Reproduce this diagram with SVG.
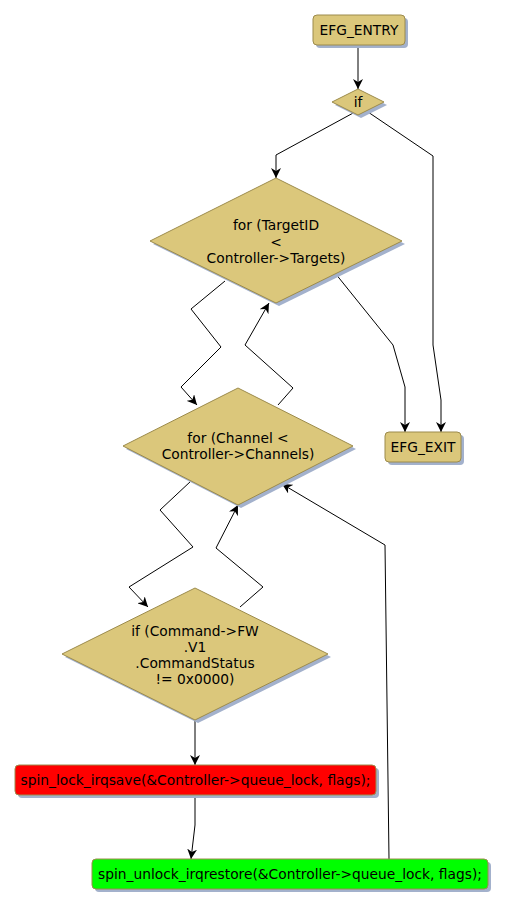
<svg xmlns="http://www.w3.org/2000/svg" width="507" height="908" viewBox="0 0 507 908">
<defs>
<marker id="ah" viewBox="0 0 10 10" refX="10" refY="5" markerWidth="10" markerHeight="10" markerUnits="userSpaceOnUse" orient="auto">
<path d="M0,0 L10,5 L0,10 L3,5 Z" fill="#000"/>
</marker>
</defs>
<style>
.n{fill:#dbc77b;stroke:#9c8b4c;stroke-width:1}
.sh{fill:#a3b1cc}
.t{font-family:"DejaVu Sans",sans-serif;font-size:13.8px;fill:#000;text-anchor:middle}
.e{fill:none;stroke:#000;stroke-width:1;marker-end:url(#ah)}
</style>
<rect width="507" height="908" fill="#fff"/>
<g id="connectors">
<path class="e" d="M358,45 L358,89"/>
<path class="e" d="M355,112 L276,155 L276,178"/>
<path class="e" d="M368,112 L433,156 L433,345 L441,400 L441,432"/>
<path class="e" d="M335,273 L393,345 L405,387 L405,432"/>
<path class="e" d="M225,281 L191,309 L221,347 L181,387 L197,405"/>
<path class="e" d="M278,405 L293,388 L245,345 L269,303"/>
<path class="e" d="M191,481 L160,510 L193,547 L129,587 L148,607"/>
<path class="e" d="M240,607 L263,587 L216,548 L238,505"/>
<path class="e" d="M195,720 L195,765"/>
<path class="e" d="M195,795 L195,825 L191,859"/>
<path class="e" d="M389,859 L385,545 L282,484"/>
</g>
<g id="EFG_ENTRY">
<rect class="sh" x="316" y="18" width="92" height="30" rx="4"/>
<rect class="n" x="313" y="15" width="92" height="30" rx="4"/>
<text class="t" x="359" y="35">EFG_ENTRY</text>
</g>
<g id="if1">
<polygon class="sh" points="361,92 387,105 361,118 335,105"/>
<polygon class="n" points="358,89 384,102 358,115 332,102"/>
<text class="t" x="358" y="107">if</text>
</g>
<g id="for_target">
<polygon class="sh" points="279,181 405,244 279,306 153,244"/>
<polygon class="n" points="276,178 402,241 276,303 150,241"/>
<text class="t" x="276" y="230">for (TargetID</text>
<text class="t" x="276" y="247">&lt;</text>
<text class="t" x="276" y="263">Controller-&gt;Targets)</text>
</g>
<g id="for_channel">
<polygon class="sh" points="241,391 356,449 241,508 126,449"/>
<polygon class="n" points="238,388 353,446 238,505 123,446"/>
<text class="t" x="238" y="443">for (Channel &lt;</text>
<text class="t" x="238" y="459">Controller-&gt;Channels)</text>
</g>
<g id="if_cmd">
<polygon class="sh" points="198,591 331,657 198,723 65,657"/>
<polygon class="n" points="195,588 328,654 195,720 62,654"/>
<text class="t" x="195" y="636">if (Command-&gt;FW</text>
<text class="t" x="195" y="652">.V1</text>
<text class="t" x="195" y="668">.CommandStatus</text>
<text class="t" x="195" y="684">!= 0x0000)</text>
</g>
<g id="EFG_EXIT">
<rect class="sh" x="388" y="435" width="76" height="30" rx="4"/>
<rect class="n" x="385" y="432" width="76" height="30" rx="4"/>
<text class="t" x="423" y="452">EFG_EXIT</text>
</g>
<g id="spin_lock">
<rect class="sh" x="18" y="768" width="361" height="30" rx="4"/>
<rect x="15" y="765" width="361" height="30" rx="4" fill="#ff0000" stroke="#9c8b4c"/>
<text class="t" x="195.5" y="785">spin_lock_irqsave(&amp;Controller-&gt;queue_lock, flags);</text>
</g>
<g id="spin_unlock">
<rect class="sh" x="95" y="862" width="396" height="30" rx="4"/>
<rect x="92" y="859" width="396" height="30" rx="4" fill="#00ff00" stroke="#9c8b4c"/>
<text class="t" x="290" y="879">spin_unlock_irqrestore(&amp;Controller-&gt;queue_lock, flags);</text>
</g>
</svg>
